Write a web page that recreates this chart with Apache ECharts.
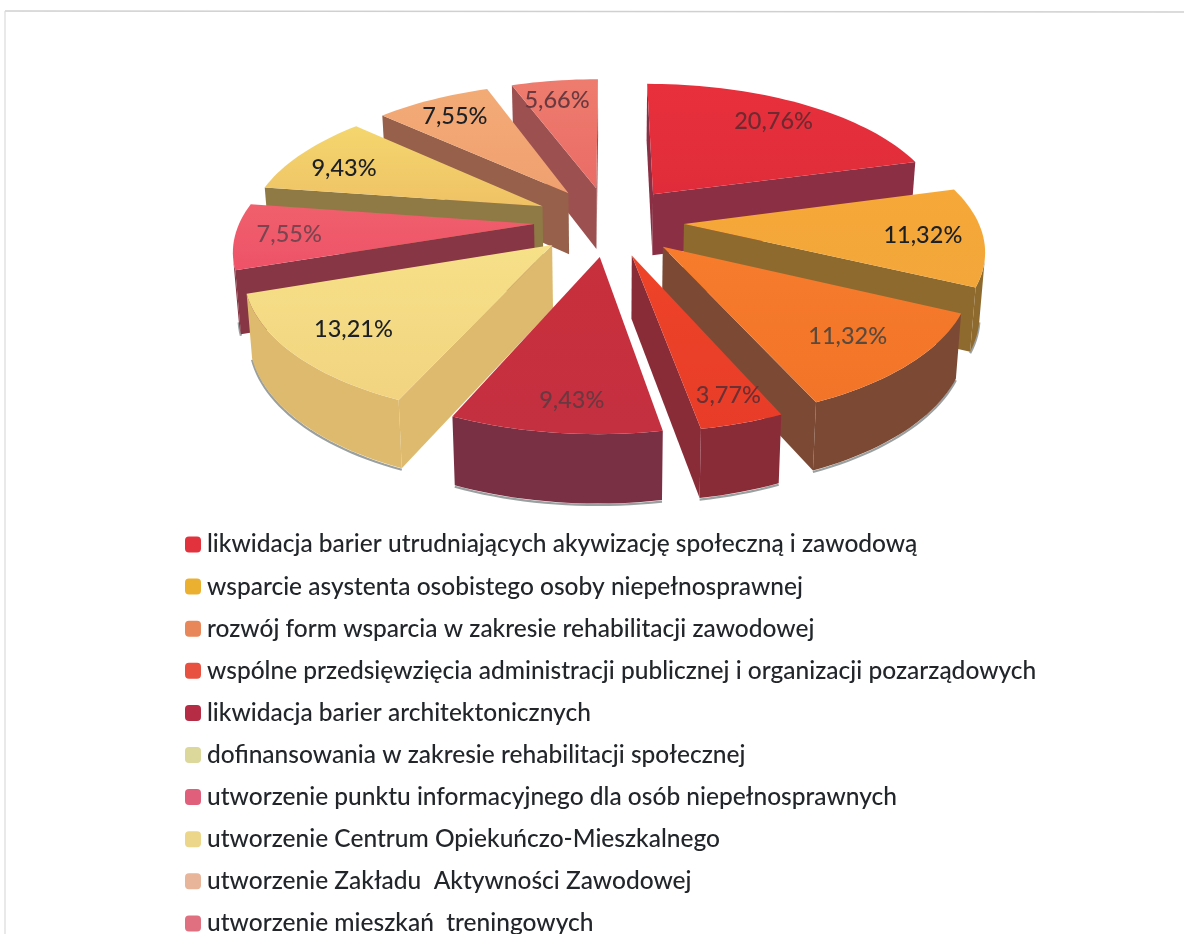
<!DOCTYPE html>
<html><head><meta charset="utf-8">
<style>html,body{margin:0;padding:0;background:#fff}#c{width:1184px;height:934px}</style>
<script src="https://cdn.jsdelivr.net/npm/echarts@6/dist/echarts.min.js"></script>
</head><body><div id="c"></div>
<script>
const categories = [
 "likwidacja barier utrudniających akywizację społeczną i zawodową",
 "wsparcie asystenta osobistego osoby niepełnosprawnej",
 "rozwój form wsparcia w zakresie rehabilitacji zawodowej",
 "wspólne przedsięwzięcia administracji publicznej i organizacji pozarządowych",
 "likwidacja barier architektonicznych",
 "dofinansowania w zakresie rehabilitacji społecznej",
 "utworzenie punktu informacyjnego dla osób niepełnosprawnych",
 "utworzenie Centrum Opiekuńczo-Mieszkalnego",
 "utworzenie Zakładu  Aktywności Zawodowej",
 "utworzenie mieszkań  treningowych"
];
const values = [20.76, 11.32, 11.32, 3.77, 9.43, 13.21, 7.55, 9.43, 7.55, 5.66];
const labels = ["20,76%","11,32%","11,32%","3,77%","9,43%","13,21%","7,55%","9,43%","7,55%","5,66%"];
const topColors = ["#e8303c","#f6a938","#f77c2c","#ee4428","#c92f3c","#f6e088","#f0606c","#f4d66e","#f3ab76","#ee7c6e"];
const topColors2 = ["#e02c3a","#f3a63a","#f27428","#e83c28","#c43040","#f2d480","#ee5268","#efc265","#f0a070","#ea6c66"];
const wallColors = ["#8a2f44","#8f6a2e","#7c4a34","#8a2c38","#7a3044","#deba6e","#873645","#8f7a45","#96604a","#9c5050"];
const legendColors = ["#e2323e","#ecb030","#e8875a","#e85040","#b52c44","#dcd79a","#e0607c","#ecd68a","#e8b49a","#e07080"];
const labelColors = ["#6e2a30","#1c2024","#5a4a3e","#6a3034","#6a3840","#1c2024","#7a4450","#1c2024","#1c2024","#6a3a40"];
// label placement inside each slice: [fraction of the slice's angle, fraction of the radius]
const labelPlace = [[.5,.79],[.52,.80],[.515,.78],[.44,.86],[.45,.84],[.5,.79],[.49,.82],[.41,.79],[.49,.81],[.43,.80]];

const cx=609, cy=221, R=294, RY=136, P=0.16, EXPL=0.255, DEPTH=62;
const total = values.reduce((a,b)=>a+b,0);
function proj(u,v){const w=1/(1-P*v);return [cx+R*u*w, cy+RY*v*w, w];}
function low(p){return [cx+(p[0]-cx)*0.985, p[1]+DEPTH*Math.pow(p[2],0.5)];}
function area(pts){let s=0;for(let i=0;i<pts.length;i++){const a=pts[i],b=pts[(i+1)%pts.length];s+=a[0]*b[1]-b[0]*a[1];}return s/2;}
const starts=[];let acc=0;values.forEach(v=>{starts.push(acc);acc+=v;});
const rad=x=>x/total*2*Math.PI;

function sliceItem(i){
  const t0=rad(starts[i]), t1=rad(starts[i]+values[i]), m=(t0+t1)/2;
  const ax=EXPL*Math.sin(m), ay=-EXPL*Math.cos(m);
  const apex=proj(ax,ay), arc=[];
  const n=Math.max(8,Math.round((t1-t0)/0.03));
  for(let k=0;k<=n;k++){const t=t0+(t1-t0)*k/n;arc.push(proj(ax+Math.sin(t),ay-Math.cos(t)));}
  const ch=[];
  const pt=p=>[p[0],p[1]];
  const vis=[];
  for(let k=0;k<n;k++){
    const q=[pt(arc[k]),pt(arc[k+1]),low(arc[k+1]),low(arc[k])];
    if(area(q)<0) vis.push(k);
  }
  if(vis.length){
    const a=vis[0],b=vis[vis.length-1]+1, poly=[];
    for(let k=a;k<=b;k++)poly.push(pt(arc[k]));
    const lowpts=[];for(let k=a;k<=b;k++)lowpts.push(low(arc[k]));
    ch.push({type:'polyline',shape:{points:lowpts.map(p=>[p[0],p[1]+1.5])},style:{stroke:'#77807f',lineWidth:2.2,fill:null,opacity:.75}});
    ch.push({type:'polygon',shape:{points:poly.concat(lowpts.slice().reverse())},style:{fill:wallColors[i]}});
  }
  [[apex,arc[0]],[arc[n],apex]].forEach(e=>{
    const q=[pt(e[0]),pt(e[1]),low(e[1]),low(e[0])];
    if(area(q)<0) ch.push({type:'polygon',shape:{points:q},style:{fill:wallColors[i]}});
  });
  ch.push({type:'polygon',shape:{points:[pt(apex)].concat(arc.map(pt))},
    style:{fill:{type:'linear',x:0,y:0,x2:0,y2:1,colorStops:[{offset:0,color:topColors[i]},{offset:1,color:topColors2[i]}]}}});
  const lt=t0+(t1-t0)*labelPlace[i][0], lr=labelPlace[i][1];
  const lp=proj(ax+lr*Math.sin(lt),ay-lr*Math.cos(lt));
  ch.push({type:'text',style:{x:lp[0],y:lp[1],text:labels[i],fill:labelColors[i],
     font:'500 23.5px Lato, sans-serif',textAlign:'center',textVerticalAlign:'middle'}});
  return {type:'group',children:ch};
}
const depthKey=values.map((v,i)=>-Math.cos(rad(starts[i]+v/2)));
const series=categories.map((name,i)=>({
  type:'custom',name,coordinateSystem:'none',silent:true,
  z:2+Math.round((depthKey[i]+1)*10),
  itemStyle:{color:legendColors[i]},
  data:[[values[i]]],
  renderItem:()=>sliceItem(i)
}));
const chart=echarts.init(document.getElementById('c'),null,{renderer:'canvas'});
chart.setOption({
  animation:false,
  backgroundColor:'#fff',
  legend:{orient:'vertical',left:185,top:532,height:480,itemWidth:16,itemHeight:16,itemGap:17.1,
    selectedMode:false,padding:0,
    data:categories.map((name,i)=>({name,icon:'roundRect',itemStyle:{color:legendColors[i]}})),
    formatter:n=>n,
    textStyle:{fontFamily:'Lato, sans-serif',fontSize:24.5,fontWeight:500,color:'#22262a',lineHeight:24,padding:[0,0,0,1]}},
  graphic:[
    {type:'line',shape:{x1:5,y1:11,x2:1184,y2:12},style:{stroke:'#d0d0d0',lineWidth:1.5}},
    {type:'line',shape:{x1:5,y1:11,x2:5,y2:934},style:{stroke:'#dadada',lineWidth:1.2}}
  ],
  series
});
</script></body></html>
